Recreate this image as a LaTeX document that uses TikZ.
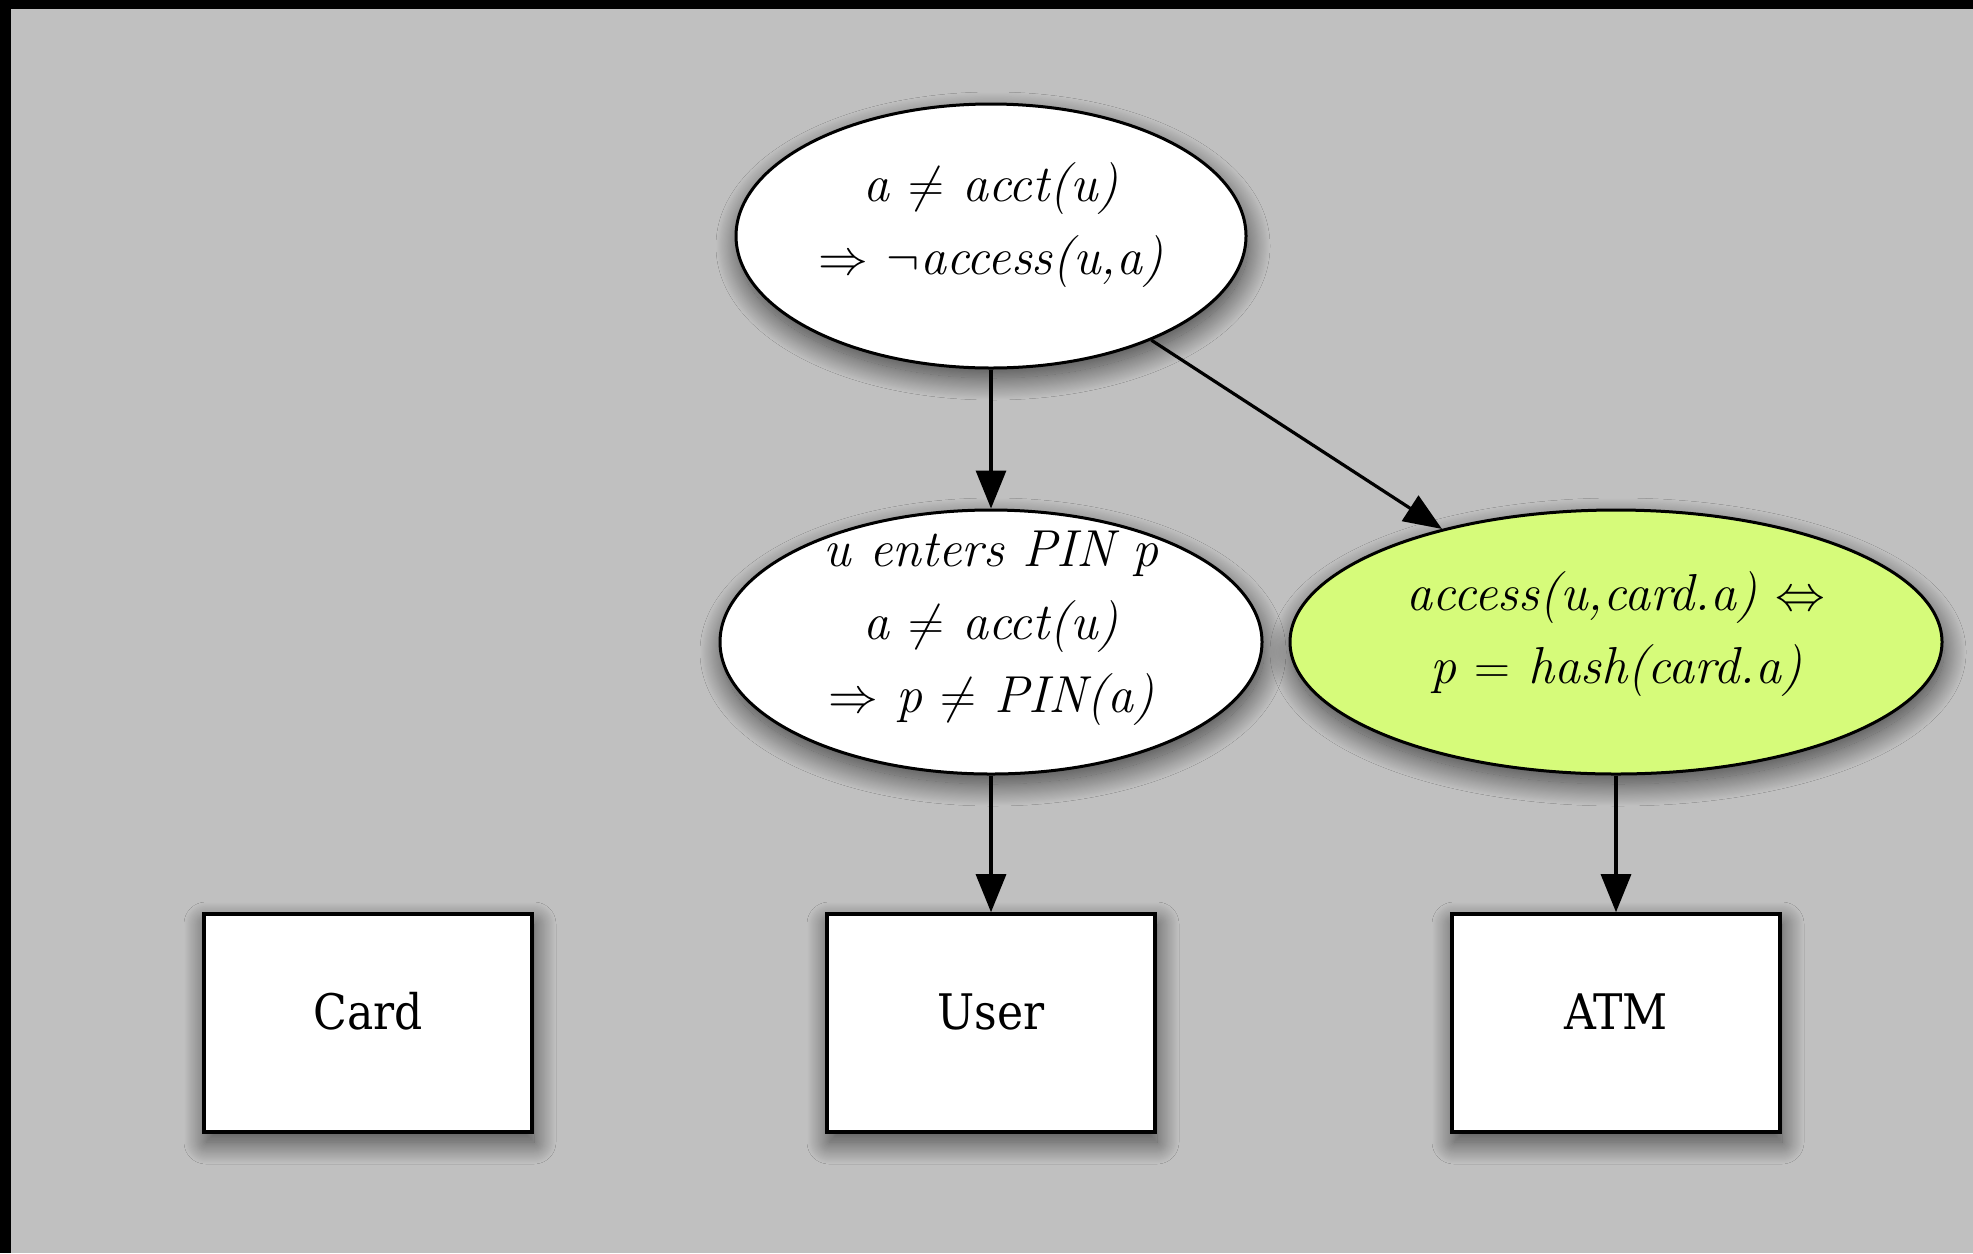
\documentclass[tikz,border=0pt]{standalone}
\usepackage{fontspec}
\newfontfamily\boxfont{DejaVu Serif Condensed}
\usetikzlibrary{shapes.geometric,arrows.meta,shadows.blur}

\definecolor{pagegrey}{RGB}{192,192,192}
\definecolor{goalgreen}{RGB}{214,251,122}

\tikzset{
  softshadow/.style={blur shadow={shadow xshift=1pt, shadow yshift=-5pt,
      shadow blur radius=11pt, shadow blur steps=40, shadow opacity=65}},
  claimnode/.style={ellipse, draw=black, line width=1.5pt, fill=white, softshadow,
      inner sep=0pt, minimum height=132pt, align=center,
      font=\itshape\fontsize{26}{36.5}\selectfont},
  claimtext/.style={inner sep=0pt, align=center,
      font=\itshape\fontsize{26}{36.5}\selectfont},
  entitybox/.style={rectangle, draw=black, line width=1.8pt, fill=white, softshadow,
      inner sep=0pt, minimum width=164pt, minimum height=109pt,
      text height=19pt, text depth=13pt,
      font=\boxfont\fontsize{24.5}{30}\selectfont},
  linkarrow/.style={-{Triangle[length=19pt,width=15pt]}, line width=1.6pt, black},
}

\begin{document}
\begin{tikzpicture}[x=0.5pt, y=-0.5pt]
  % page: black frame strip on top and left, grey field
  \fill[black] (0,0) rectangle (1973,1253);
  \fill[pagegrey] (11,9) rectangle (1973,1253);
  \useasboundingbox (0,0) rectangle (1973,1253);

  % claims
  \node[claimnode, minimum width=255pt, text depth=18pt] (top) at (991,236)
    {a $\neq$ acct(u)\\ $\Rightarrow$ $\neg$access(u,a)};
  \node[claimnode, minimum width=271pt] (mid) at (991,642) {};
  \node[claimtext] (midtext) at (991,628)
    {u enters PIN p\\ a $\neq$ acct(u)\\ $\Rightarrow$ p $\neq$ PIN(a)};
  \node[claimnode, fill=goalgreen, minimum width=326pt, text depth=15pt] (goal) at (1616,642)
    {access(u,card.a) $\Leftrightarrow$\\ p $=$ hash(card.a)};

  % domains
  \node[entitybox] (card) at (368,1023) {Card};
  \node[entitybox] (user) at (991,1023) {User};
  \node[entitybox] (atm)  at (1616,1023) {ATM};

  % refinement links
  \draw[linkarrow] (top) -- (mid);
  \draw[linkarrow] (top) -- (goal);
  \draw[linkarrow] (mid) -- (user);
  \draw[linkarrow] (goal) -- (atm);
\end{tikzpicture}
\end{document}
